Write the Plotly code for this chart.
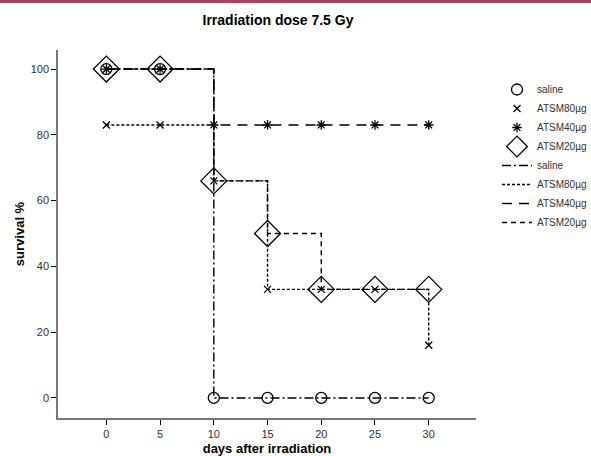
import plotly.graph_objects as go

days = [0, 5, 10, 15, 20, 25, 30]
groups = ["saline", "ATSM80µg", "ATSM40µg", "ATSM20µg"]
saline = [100, 100, 0, 0, 0, 0, 0]
atsm80 = [83, 83, 66, 33, 33, 33, 16]
atsm40 = [100, 100, 83, 83, 83, 83, 83]
atsm20 = [100, 100, 66, 50, 33, 33, 33]
series = [saline, atsm80, atsm40, atsm20]
x_ticks = [0, 5, 10, 15, 20, 25, 30]
y_ticks = [0, 20, 40, 60, 80, 100]

symbols = ["circle-open", "x-thin-open", "asterisk-open", "diamond-open"]
msizes = [11, 7, 8, 20]
dashes = ["9px,3px,2px,3px", "3px,2px", "10px,7px", "5px,4px"]

FONT = "Liberation Sans, Arial, sans-serif"
fig = go.Figure()

for name, vals, d in zip(groups, series, dashes):
    fig.add_trace(go.Scatter(x=days, y=vals, mode="lines", line_shape="hv",
                             line=dict(color="black", width=1.4, dash=d),
                             name=name, showlegend=False, hoverinfo="skip"))

for name, vals, s, ms in zip(groups, series, symbols, msizes):
    fig.add_trace(go.Scatter(x=days, y=vals, mode="markers", name=name,
                             marker=dict(symbol=s, size=ms, color="black",
                                         line=dict(color="black", width=1.3))))

for name, d in zip(groups, dashes):
    fig.add_trace(go.Scatter(x=[None], y=[None], mode="lines", name=name,
                             line=dict(color="black", width=1.4, dash=d)))

H_PLOT = 456 - 50 - 38
fig.update_layout(
    width=591, height=456,
    margin=dict(l=58, r=115, t=50, b=38, autoexpand=False),
    paper_bgcolor="white", plot_bgcolor="white",
    font=dict(family=FONT, color="#333", size=11),
    title=dict(text="<b>Irradiation dose 7.5 Gy</b>", x=278/591, xanchor="center",
               y=1 - 20/456, yanchor="middle", font=dict(size=14, family=FONT, color="black")),
    legend=dict(xref="container", yref="container", x=497/591, y=1 - 75/456,
                yanchor="top", xanchor="left",
                font=dict(size=10, family=FONT), tracegroupgap=0,
                itemsizing="trace", bgcolor="rgba(0,0,0,0)"),
    showlegend=True,
    shapes=[dict(type="rect", xref="paper", yref="paper", x0=-0.3, x1=1.4,
                 y0=1 + 47/H_PLOT, y1=1 + 50/H_PLOT, fillcolor="#a8435e",
                 line=dict(width=0), layer="above")],
)

fig.update_xaxes(range=[-4.5, 34.4], tickvals=x_ticks, ticks="outside", ticklen=5,
                 tickcolor="black", showline=True, linecolor="#777", linewidth=1.5,
                 showgrid=False, zeroline=False, automargin=False,
                 title=dict(text="<b>days after irradiation</b>", font=dict(size=13, color="black"),
                            standoff=6))
fig.update_yaxes(range=[-6.1, 105.8], tickvals=y_ticks, ticks="outside", ticklen=5,
                 tickcolor="black", showline=True, linecolor="#777", linewidth=1.5,
                 showgrid=False, zeroline=False, automargin=False,
                 title=dict(text="<b>survival %</b>", font=dict(size=13, color="black"),
                            standoff=3))

fig.write_html("out.html", config={"displayModeBar": False},
               post_script="document.body.style.margin='0';document.body.style.overflow='hidden';")
